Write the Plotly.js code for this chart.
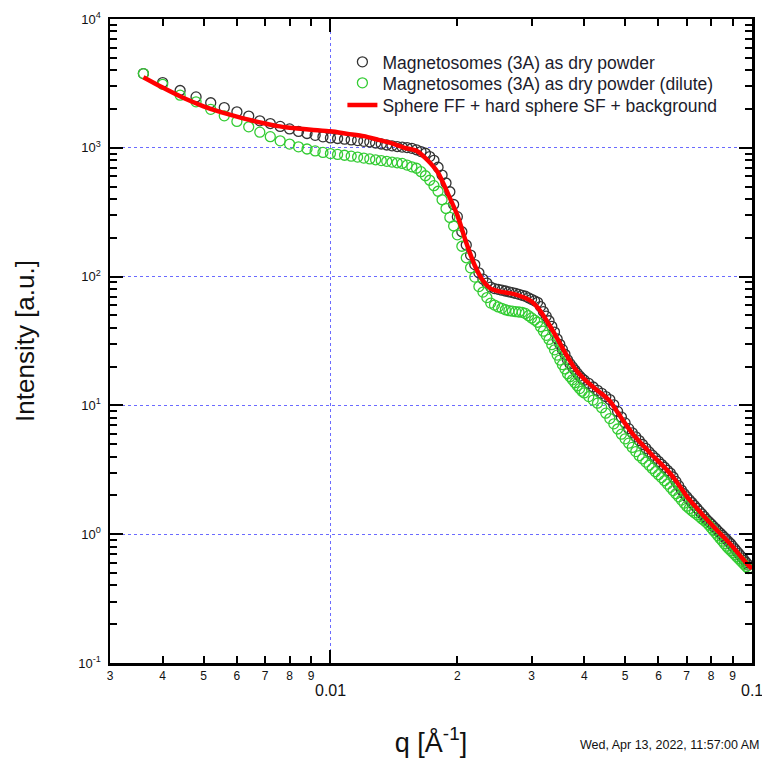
<!DOCTYPE html>
<html><head><meta charset="utf-8">
<script src="https://cdn.plot.ly/plotly-3.0.1.min.js"></script>
<style>body{margin:0;background:#fff}#chart{width:762px;height:763px}</style>
</head><body><div id="chart"></div>
<script>
// q [1/Å] shared by both measured series
const q = [
0.0036,0.0040,0.0044,0.0048,0.0052,0.0056,0.0060,0.0064,0.0068,0.0072,
0.0076,0.0080,0.0084,0.0088,0.0092,0.0096,0.0100,0.0104,0.0108,0.0112,
0.0116,0.0120,0.0124,0.0128,0.0132,0.0136,0.0140,0.0144,0.0148,0.0152,
0.0156,0.0160,0.0164,0.0168,0.0172,0.0176,0.0180,0.0184,0.0188,0.0192,
0.0196,0.0200,0.0205,0.0210,0.0215,0.0220,0.0225,0.0230,0.0235,0.0240,
0.0245,0.0250,0.0255,0.0260,0.0265,0.0270,0.0275,0.0280,0.0285,0.0290,
0.0295,0.0300,0.0305,0.0310,0.0315,0.0320,0.0325,0.0330,0.0335,0.0340,
0.0345,0.0350,0.0355,0.0360,0.0365,0.0370,0.0375,0.0380,0.0385,0.0390,
0.0395,0.0400,0.041,0.042,0.043,0.044,0.045,0.046,0.047,0.048,
0.049,0.050,0.051,0.052,0.053,0.054,0.055,0.056,0.057,0.058,
0.059,0.060,0.061,0.062,0.063,0.064,0.065,0.066,0.067,0.068,
0.069,0.070,0.071,0.072,0.073,0.074,0.075,0.076,0.077,0.078,
0.079,0.080,0.081,0.082,0.083,0.084,0.085,0.086,0.087,0.088,
0.089,0.090,0.091,0.092,0.093,0.094,0.095,0.096,0.097,0.098];

const dryPowder = [
3770,3210,2786,2485,2237,2053,1901,1764,1619,1543,
1465,1401,1340,1291,1250,1217,1193,1181,1166,1151,
1137,1123,1109,1089,1070,1051,1036,1023,1013,1004,
991,965,934,907,855,800,706,614,533,456,
363,292,223,176,147,124,107,95.6,89.0,82.9,
80.7,79.6,78.5,77.3,76.2,75.2,74.0,72.8,71.6,70.5,
68.4,66.6,64.8,63.1,58.5,53.5,49.3,45.4,41.1,37.1,
32.8,29.8,27.2,24.9,22.6,21.1,19.9,18.8,17.8,16.9,
16.2,15.7,14.8,13.9,13.1,12.4,11.7,11.1,10.1,8.98,
8.12,7.31,6.60,6.12,5.70,5.33,4.97,4.64,4.35,4.11,
3.89,3.68,3.49,3.31,3.13,2.98,2.78,2.57,2.38,2.20,
2.06,1.95,1.85,1.76,1.67,1.59,1.51,1.44,1.37,1.30,
1.25,1.20,1.15,1.105,1.06,1.02,0.981,0.944,0.908,0.873,
0.843,0.804,0.770,0.738,0.707,0.678,0.652,0.625,0.600,0.576];

const dilute = [
3770,3112,2562,2273,1988,1771,1602,1455,1323,1221,
1133,1068,1018,979,946,921,902,889,875,861,
847,832,820,807,796,785,775,765,756,734,
712,694,652,607,560,508,460,395,338,288,
247,211,172,140,117,99.1,83.6,75.8,68.7,62.3,
60.1,58.2,56.7,55.3,54.4,53.9,53.4,53.1,52.8,51.8,
49.7,47.8,46.0,44.2,40.8,37.7,35.0,32.5,29.6,27.0,
24.6,22.5,20.7,19.2,17.6,16.7,15.8,15.0,14.2,13.5,
12.9,12.5,11.7,11.0,10.4,9.60,8.70,7.90,7.19,6.56,
5.98,5.50,5.09,4.72,4.38,4.07,3.85,3.63,3.43,3.24,
3.06,2.90,2.75,2.60,2.45,2.31,2.18,2.06,1.95,1.84,
1.74,1.65,1.58,1.52,1.47,1.42,1.37,1.32,1.28,1.23,
1.18,1.12,1.07,1.02,0.972,0.926,0.884,0.844,0.807,0.776,
0.747,0.720,0.695,0.669,0.645,0.621,0.599,0.579,0.560,0.541];

// model curve
const modelQ = [0.0036,0.004,0.0045,0.005,0.0055,0.006,0.0065,0.007,0.0075,0.008,
0.009,0.010,0.011,0.012,0.013,0.014,0.015,0.016,0.017,0.018,
0.019,0.020,0.021,0.022,0.023,0.024,0.025,0.026,0.027,0.028,
0.029,0.030,0.031,0.032,0.033,0.034,0.035,0.036,0.038,0.040,
0.042,0.044,0.046,0.048,0.050,0.052,0.054,0.056,0.058,0.060,
0.063,0.066,0.070,0.074,0.078,0.082,0.086,0.090,0.094,0.098,0.100];
const modelI = [3532,2934,2424,2101,1891,1746,1631,1543,1473,1432,
1381,1342,1283,1232,1153,1084,1000,948,800,640,
440,300,183,122,93.1,80.7,77.2,75.2,73.8,71.2,
68.1,64.0,57.5,49.9,42.5,36.1,30.5,25.8,19.4,16.0,
13.9,12.3,10.8,8.83,7.25,6.07,5.26,4.64,4.10,3.68,
3.13,2.60,1.97,1.59,1.31,1.10,0.939,0.800,0.675,0.575,0.540];

const seriesNames = ['Magnetosomes (3A) as dry powder',
  'Magnetosomes (3A) as dry powder (dilute)',
  'Sphere FF + hard sphere SF + background'];

// axis ticks
const xDigitVals = [0.003,0.004,0.005,0.006,0.007,0.008,0.009,0.02,0.03,0.04,0.05,0.06,0.07,0.08,0.09];
const xDigitText = ['3','4','5','6','7','8','9','2','3','4','5','6','7','8','9'];
const xDecadeVals = [0.01, 0.1];
const xDecadeText = ['0.01', '0.1'];
const yDecadeVals = [0.1, 1, 10, 100, 1000, 10000];
const yDecadeText = ['10<sup>-1</sup>','10<sup>0</sup>','10<sup>1</sup>','10<sup>2</sup>','10<sup>3</sup>','10<sup>4</sup>'];
const yMinorMult = [2,3,4,5,6,7,8,9];
const yMinorVals = [];
yDecadeVals.slice(0, -1).forEach(d => yMinorMult.forEach(m => yMinorVals.push(d * m)));

const stampText = 'Wed, Apr 13, 2022, 11:57:00 AM';

const gridCol = '#6b6bff';
const traces = [
  {x: q, y: dryPowder, name: seriesNames[0], type: 'scatter', mode: 'markers', legend: 'legend',
   marker: {symbol: 'circle-open', size: 10, color: '#333', line: {width: 1.3, color: '#333'}}},
  {x: q, y: dilute, name: seriesNames[1], type: 'scatter', mode: 'markers', legend: 'legend2',
   marker: {symbol: 'circle-open', size: 10, color: '#33cc33', line: {width: 1.3, color: '#33cc33'}}},
  {x: modelQ, y: modelI, name: seriesNames[2], type: 'scatter', mode: 'lines', legend: 'legend3',
   line: {color: '#ff0000', width: 4.5, shape: 'spline', smoothing: 0.6}}
];

const annotations = xDecadeVals.map((v, i) => ({
  x: Math.log10(v), xref: 'x', y: 0, yref: 'paper', yanchor: 'top', xanchor: 'center',
  yshift: -17, text: xDecadeText[i], showarrow: false, font: {size: 16, color: '#111'}
}));
annotations.push({x: 1, xref: 'paper', xshift: 10, xanchor: 'right', y: 0, yref: 'paper',
  yanchor: 'middle', yshift: -82, text: stampText, showarrow: false, font: {size: 12.5, color: '#111'}});

const legendBase = {x: 0.362, xanchor: 'left', yanchor: 'top', bgcolor: 'rgba(0,0,0,0)',
  font: {size: 17.5, color: '#1c1c2c'}};

const layout = {
  width: 762, height: 763,
  margin: {l: 110, r: 10, t: 19, b: 100},
  paper_bgcolor: '#fff', plot_bgcolor: '#fff',
  font: {family: 'Arial, "Liberation Sans", sans-serif', color: '#111'},
  showlegend: true,
  legend: Object.assign({}, legendBase, {y: 0.9612}),
  legend2: Object.assign({}, legendBase, {y: 0.9286}),
  legend3: Object.assign({}, legendBase, {y: 0.8944}),
  xaxis: {
    type: 'log', range: [Math.log10(0.003), -1], autorange: false,
    tickmode: 'array', tickvals: xDigitVals, ticktext: xDigitText,
    ticks: 'inside', ticklen: 7, tickwidth: 2, tickcolor: '#000',
    showline: true, linecolor: '#000', linewidth: 2.5, mirror: 'allticks',
    showgrid: false, zeroline: false, tickfont: {size: 12, color: '#111'},
    minor: {tickmode: 'array', tickvals: xDecadeVals, ticks: 'inside', ticklen: 13, tickwidth: 2,
      tickcolor: '#000', showgrid: true, gridcolor: gridCol, griddash: 'dot', gridwidth: 1},
    title: {text: 'q [Å<sup>-1</sup>]', font: {size: 27, color: '#111'}, standoff: 51}
  },
  yaxis: {
    type: 'log', range: [-1, 4], autorange: false,
    tickmode: 'array', tickvals: yDecadeVals, ticktext: yDecadeText,
    ticks: 'inside', ticklen: 13, tickwidth: 2, tickcolor: '#000',
    showline: true, linecolor: '#000', linewidth: 2.5, mirror: 'allticks',
    showgrid: true, gridcolor: gridCol, griddash: 'dot', gridwidth: 1, zeroline: false,
    tickfont: {size: 13, color: '#111'}, ticklabelstandoff: 4,
    minor: {tickmode: 'array', tickvals: yMinorVals, ticks: 'inside', ticklen: 7, tickwidth: 2,
      tickcolor: '#000', showgrid: false},
    title: {text: 'Intensity [a.u.]', font: {size: 26, color: '#111'}, standoff: 36}
  },
  annotations: annotations
};

Plotly.newPlot('chart', traces, layout, {displayModeBar: false, staticPlot: true});
</script>
</body></html>
